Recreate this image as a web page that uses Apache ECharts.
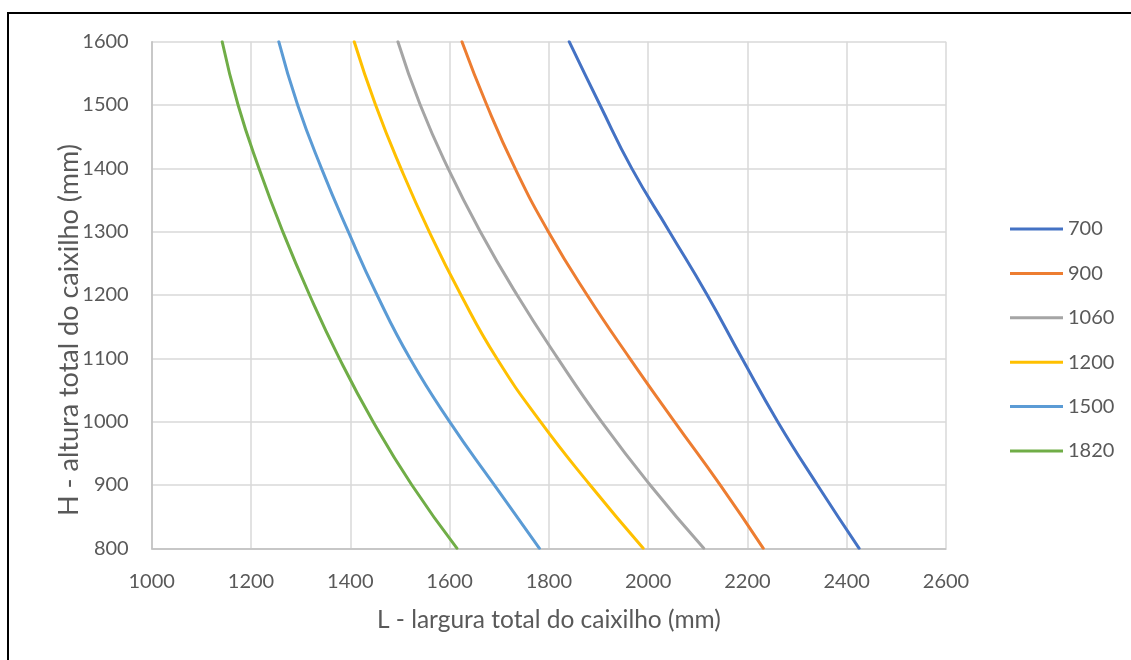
<!DOCTYPE html>
<html>
<head>
<meta charset="utf-8">
<script src="https://cdn.jsdelivr.net/npm/echarts@6/dist/echarts.min.js"></script>
<style>
html,body{margin:0;padding:0;background:#fff;}
#c{width:1131px;height:660px;}
</style>
</head>
<body>
<div id="c"></div>
<script>
// H - altura total do caixilho (mm)
const heights = [800, 900, 1000, 1100, 1200, 1300, 1400, 1500, 1600];
// L - largura total do caixilho (mm), one array per series
const L700  = [2425, 2341, 2261, 2189, 2119, 2043, 1967, 1903, 1841];
const L900  = [2232, 2145, 2053, 1963, 1877, 1799, 1732, 1675, 1625];
const L1060 = [2112, 2004, 1906, 1818, 1736, 1662, 1597, 1541, 1496];
const L1200 = [1990, 1883, 1783, 1695, 1623, 1559, 1502, 1451, 1408];
const L1500 = [1781, 1690, 1600, 1520, 1454, 1396, 1342, 1294, 1256];
const L1820 = [1615, 1524, 1446, 1378, 1318, 1264, 1216, 1174, 1142];
const seriesNames = ['700', '900', '1060', '1200', '1500', '1820'];
const seriesValues = [L700, L900, L1060, L1200, L1500, L1820];
const colors = ['#4472C4', '#ED7D31', '#A5A5A5', '#FFC000', '#5B9BD5', '#70AD47'];
const xTitle = 'L - largura total do caixilho (mm)';
const yTitle = 'H - altura total do caixilho (mm)';

const FONT = 'Lato';
const TXT = '#595959';

const chart = echarts.init(document.getElementById('c'), null, {renderer: 'canvas'});
chart.setOption({
  animation: false,
  backgroundColor: '#fff',
  color: colors,
  textStyle: {fontFamily: FONT},
  grid: {left: 151.7, right: 185, top: 41.7, bottom: 111.7, containLabel: false},
  legend: {
    orient: 'vertical',
    left: 1010,
    top: 219,
    padding: 0,
    icon: 'rect',
    itemWidth: 53,
    itemHeight: 3,
    itemGap: 24.4,
    textStyle: {color: TXT, fontSize: 20, fontFamily: FONT, padding: [0, 0, 0, 0]},
    data: seriesNames
  },
  xAxis: {
    type: 'value',
    min: 1000, max: 2600, interval: 200,
    name: xTitle,
    nameLocation: 'middle',
    nameGap: 59,
    nameTextStyle: {color: TXT, fontSize: 24.5, fontFamily: FONT},
    axisLine: {show: true, lineStyle: {color: '#BFBFBF', width: 1.5}},
    axisTick: {show: false},
    axisLabel: {color: TXT, fontSize: 20, margin: 23, fontFamily: FONT, formatter: v => String(v)},
    splitLine: {show: true, lineStyle: {color: '#D9D9D9', width: 1.5}}
  },
  yAxis: {
    type: 'value',
    min: 800, max: 1600, interval: 100,
    axisLine: {show: true, lineStyle: {color: '#BFBFBF', width: 1.5}},
    axisTick: {show: false},
    axisLabel: {color: TXT, fontSize: 20, margin: 23, fontFamily: FONT, formatter: v => String(v)},
    splitLine: {show: true, lineStyle: {color: '#D9D9D9', width: 1.5}}
  },
  series: seriesNames.map((n, i) => ({
    name: n,
    type: 'line',
    smooth: 0.5,
    showSymbol: false,
    symbol: 'none',
    lineStyle: {width: 3, color: colors[i], cap: 'round'},
    itemStyle: {color: colors[i]},
    data: seriesValues[i].map((v, k) => [v, heights[k]])
  })),
  graphic: [
    {type: 'rect', shape: {x: 7, y: 12, width: 1124, height: 2}, style: {fill: '#000'}, silent: true},
    {type: 'rect', shape: {x: 7, y: 12, width: 2, height: 648}, style: {fill: '#000'}, silent: true},
    {type: 'text', x: 69, y: 330, rotation: Math.PI / 2, silent: true,
     style: {text: yTitle, fill: TXT, fontSize: 27, fontFamily: FONT, textAlign: 'center', textVerticalAlign: 'middle'}}
  ]
});
</script>
</body>
</html>
